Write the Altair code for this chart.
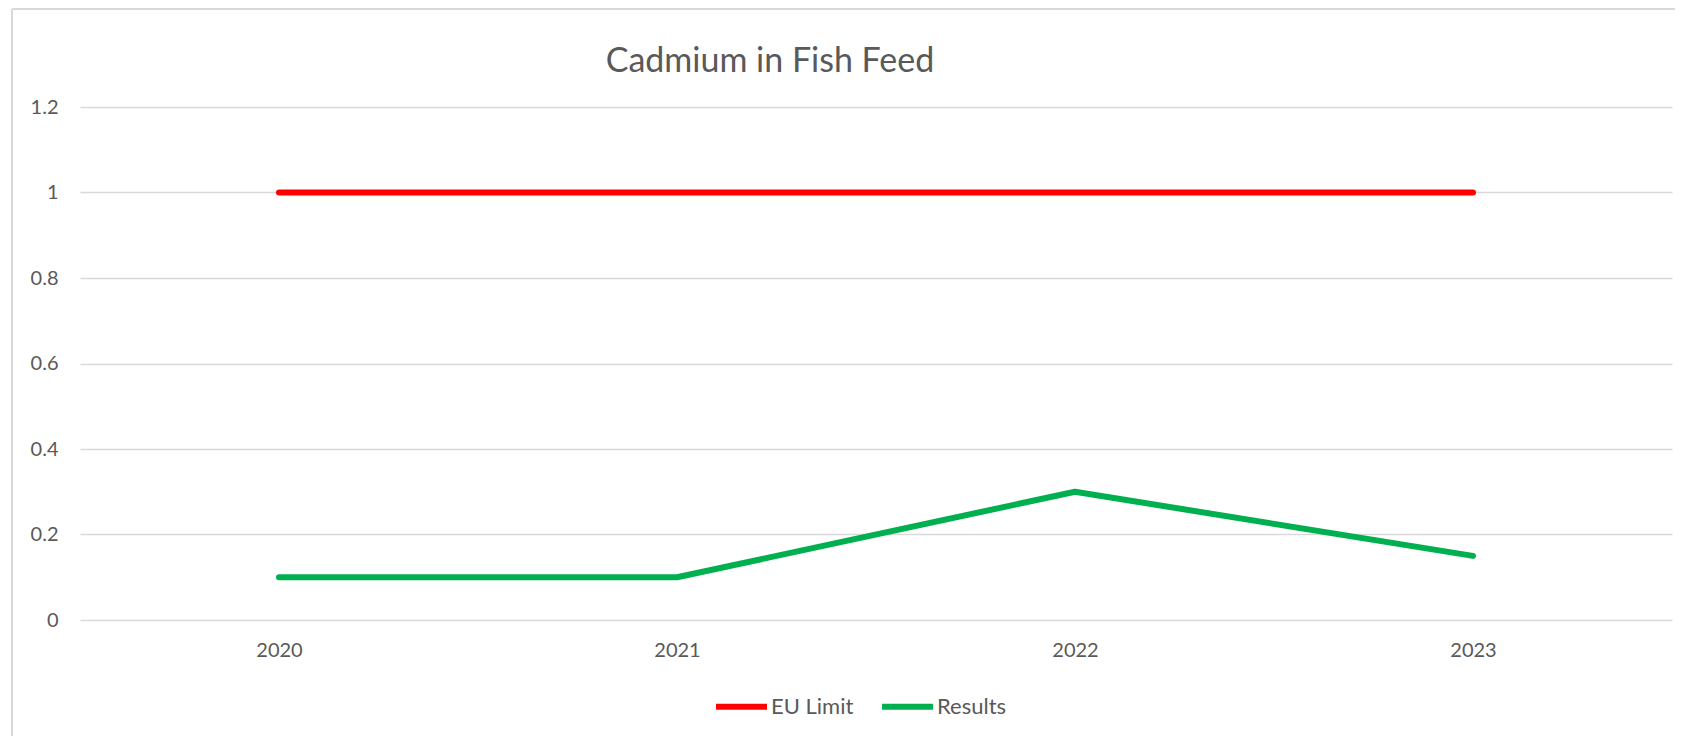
import altair as alt
import pandas as pd

years = ["2020", "2021", "2022", "2023"]
eu_limit = [1, 1, 1, 1]
results = [0.1, 0.1, 0.3, 0.15]
series_names = ["EU Limit", "Results"]
series_colors = ["#ff0000", "#00b050"]
y_ticks = [0, 0.2, 0.4, 0.6, 0.8, 1.0, 1.2]
title_text = "Cadmium in Fish Feed"

rows = []
for y, v in zip(years, eu_limit):
    rows.append({"Year": y, "Value": v, "Series": series_names[0]})
for y, v in zip(years, results):
    rows.append({"Year": y, "Value": v, "Series": series_names[1]})
df = pd.DataFrame(rows)

FONT = "Lato"
TXT = "#595959"

lines = alt.Chart(df).mark_line(strokeWidth=6, strokeCap="round", strokeJoin="round").encode(
    x=alt.X("Year:N", sort=years, title=None,
            scale=alt.Scale(type="point", padding=0.5),
            axis=alt.Axis(labelAngle=0, ticks=False, domain=False, grid=False,
                          labelPadding=20, labelFontSize=20, labelColor=TXT, labelFont=FONT)),
    y=alt.Y("Value:Q", title=None,
            scale=alt.Scale(domain=[0, 1.2], nice=False),
            axis=alt.Axis(values=y_ticks, format="~g", ticks=False, domain=False,
                          labelPadding=22, labelFontSize=20, labelColor=TXT, labelFont=FONT,
                          gridColor="#d9d9d9", gridWidth=1.5)),
    color=alt.Color("Series:N", sort=series_names,
                    scale=alt.Scale(domain=series_names, range=series_colors),
                    legend=alt.Legend(title=None, orient="none", direction="horizontal",
                                      legendX=633, legendY=571,
                                      symbolType="stroke", symbolSize=2600,
                                      symbolStrokeWidth=6, labelFontSize=22,
                                      labelColor=TXT, labelFont=FONT, labelOffset=1,
                                      columnPadding=16)),
)

frame_df = pd.DataFrame({"k": [0]})
frame_left = alt.Chart(frame_df).mark_rule(color="#d9d9d9", strokeWidth=2).encode(
    x=alt.value(-68), y=alt.value(-98), y2=alt.value(640)
)
frame_top = alt.Chart(frame_df).mark_rule(color="#d9d9d9", strokeWidth=2).encode(
    x=alt.value(-68), x2=alt.value(1610), y=alt.value(-98)
)

title_df = pd.DataFrame({"t": [title_text]})
title = alt.Chart(title_df).mark_text(
    font=FONT, fontSize=34, color=TXT, align="center", baseline="alphabetic"
).encode(text="t:N", x=alt.value(690), y=alt.value(-35))

chart = alt.layer(frame_left, frame_top, title, lines).properties(
    width=1592, height=513,
    autosize="none",
    padding={"left": 72, "top": 99, "right": 3, "bottom": 116},
).configure_view(stroke=None)

chart.save("out.html", embed_options={"renderer": "svg", "actions": False})
